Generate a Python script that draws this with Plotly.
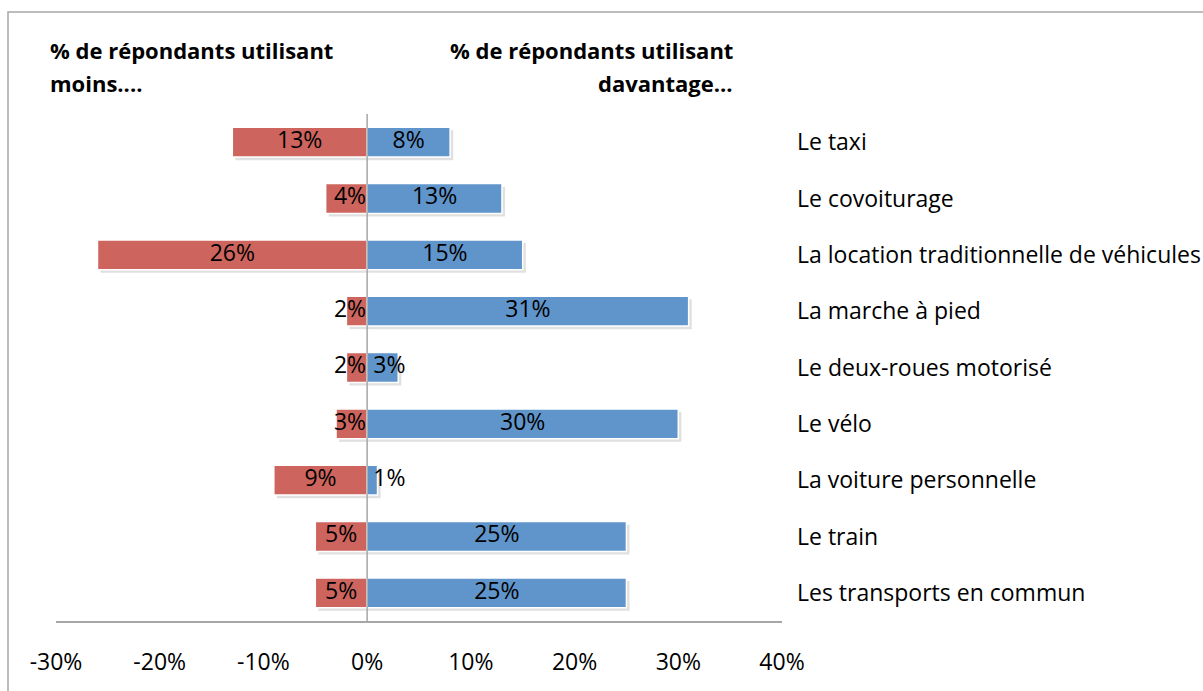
import plotly.graph_objects as go

# Modes of transport, listed top to bottom
categories = [
    "Le taxi",
    "Le covoiturage",
    "La location traditionnelle de véhicules",
    "La marche à pied",
    "Le deux-roues motorisé",
    "Le vélo",
    "La voiture personnelle",
    "Le train",
    "Les transports en commun",
]
# % of respondents using the mode less / more
moins = [13, 4, 26, 2, 2, 3, 9, 5, 5]
davantage = [8, 13, 15, 31, 3, 30, 1, 25, 25]

tick_values = [-30, -20, -10, 0, 10, 20, 30, 40]
tick_labels = ["-30%", "-20%", "-10%", "0%", "10%", "20%", "30%", "40%"]

FONT = "Open Sans"
RED = "#CD655E"
BLUE = "#5F95CB"
GREY = "#A6A6A6"
BAR_W = 0.53

fig = go.Figure()

# soft drop shadow behind each bar
shadow = dict(color="rgba(0,0,0,0.12)", line=dict(width=0))
fig.add_trace(go.Bar(y=categories, x=[-v for v in moins], base=0.3, orientation="h",
                     width=BAR_W, offset=-BAR_W / 2 + 0.055, marker=shadow,
                     hoverinfo="skip", showlegend=False))
fig.add_trace(go.Bar(y=categories, x=davantage, base=0.3, orientation="h",
                     width=BAR_W, offset=-BAR_W / 2 + 0.055, marker=shadow,
                     hoverinfo="skip", showlegend=False))

# the bars themselves
fig.add_trace(go.Bar(y=categories, x=[-v for v in moins], orientation="h", width=BAR_W,
                     marker=dict(color=RED, line=dict(color="white", width=1.5)),
                     name="moins", showlegend=False))
fig.add_trace(go.Bar(y=categories, x=davantage, orientation="h", width=BAR_W,
                     marker=dict(color=BLUE, line=dict(color="white", width=1.5)),
                     name="davantage", showlegend=False))

# value labels: centred in the bar, or set beside the zero line when the bar is short
red_x, red_pos = [], []
for v in moins:
    if v <= 4:
        red_x.append(-0.1); red_pos.append("middle left")
    else:
        red_x.append(-v / 2); red_pos.append("middle center")
blue_x, blue_pos = [], []
for v in davantage:
    if v <= 3:
        blue_x.append(0.6); blue_pos.append("middle right")
    else:
        blue_x.append(v / 2); blue_pos.append("middle center")

label_font = dict(family=FONT, size=23, color="black")
fig.add_trace(go.Scatter(y=categories, x=red_x, mode="text", text=[f"{v}%" for v in moins],
                         textposition=red_pos, textfont=label_font,
                         hoverinfo="skip", showlegend=False))
fig.add_trace(go.Scatter(y=categories, x=blue_x, mode="text", text=[f"{v}%" for v in davantage],
                         textposition=blue_pos, textfont=label_font,
                         hoverinfo="skip", showlegend=False))

# two-line headings above each half of the chart
head_font = dict(family=FONT, size=22, color="black")
headings = [
    ("<b>% de répondants utilisant</b>", 48, 50, "left"),
    ("<b>moins....</b>", 48, 83, "left"),
    ("<b>% de répondants utilisant</b>", 735, 50, "right"),
    ("<b>davantage...</b>", 735, 83, "right"),
]
annotations = [
    dict(text=t, xref="paper", yref="paper", x=(px - 56) / 726, y=(621 - py) / 507,
         xanchor=anchor, yanchor="middle", align=anchor, showarrow=False, font=head_font)
    for t, px, py, anchor in headings
]

fig.update_layout(
    width=1203, height=691,
    margin=dict(l=56, r=421, t=114, b=70),
    paper_bgcolor="white", plot_bgcolor="white",
    barmode="overlay",
    font=dict(family=FONT, size=23, color="black"),
    xaxis=dict(
        range=[-30, 40], tickvals=tick_values, ticktext=tick_labels,
        showgrid=False, zeroline=False, showline=True, linecolor=GREY, linewidth=2,
        ticks="", ticklabelstandoff=19, tickfont=dict(family=FONT, size=23),
    ),
    yaxis=dict(
        categoryorder="array", categoryarray=categories, autorange="reversed",
        side="right", showgrid=False, zeroline=False, showline=False, ticks="",
        ticklabelstandoff=14, automargin=False, tickfont=dict(family=FONT, size=23),
    ),
    shapes=[
        # zero line drawn over the bars
        dict(type="line", xref="x", yref="paper", x0=0, x1=0, y0=0, y1=1,
             line=dict(color=GREY, width=1.5), layer="above"),
        # chart frame
        dict(type="rect", xref="paper", yref="paper",
             x0=(8 - 56) / 726, x1=(1215 - 56) / 726,
             y0=(621 - 700) / 507, y1=(621 - 12) / 507,
             line=dict(color=GREY, width=1.5), layer="below"),
    ],
    annotations=annotations,
)

fig.write_html("out.html")
